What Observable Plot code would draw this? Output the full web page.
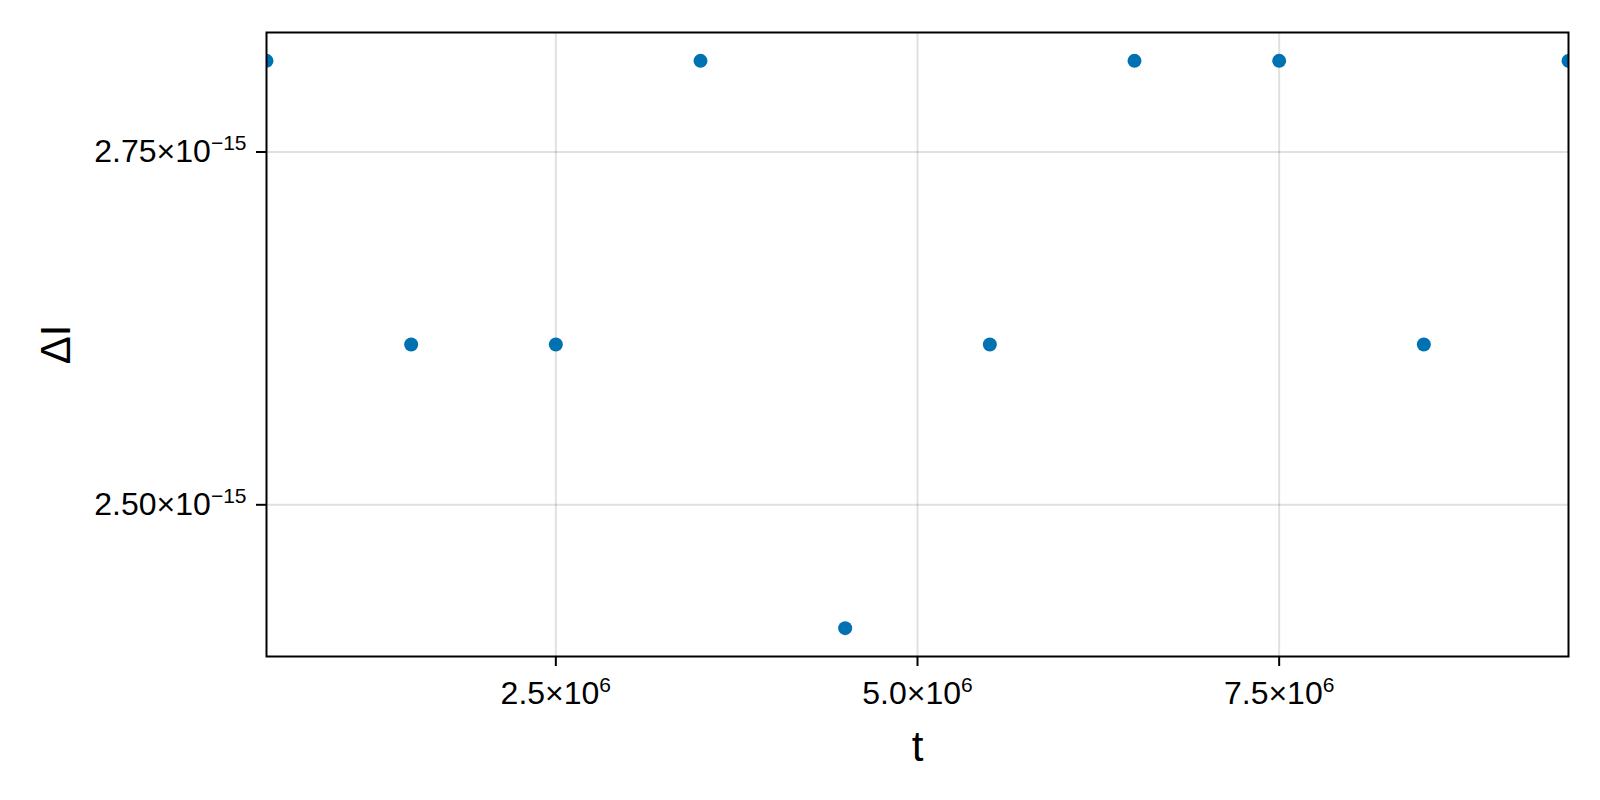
<!DOCTYPE html>
<html><head><meta charset="utf-8">
<script src="https://cdn.jsdelivr.net/npm/d3@7"></script>
<script src="https://cdn.jsdelivr.net/npm/@observablehq/plot@0.6"></script>
<style>body{margin:0;background:#fff}</style></head>
<body><div id="chart"></div>
<script>
const tValues = [0.5e6, 1.5e6, 2.5e6, 3.5e6, 4.5e6, 5.5e6, 6.5e6, 7.5e6, 8.5e6, 9.5e6];
const deltaI = [2.8146e-15, 2.6136e-15, 2.6136e-15, 2.8146e-15, 2.4126e-15, 2.6136e-15, 2.8146e-15, 2.8146e-15, 2.6136e-15, 2.8146e-15];
const xTicks = [2.5e6, 5.0e6, 7.5e6];
const xTickLabels = ["2.5×10^6", "5.0×10^6", "7.5×10^6"];
const yTicks = [2.5e-15, 2.75e-15];
const yTickLabels = ["2.50×10^−15", "2.75×10^−15"];
const xLabel = "t";
const yLabel = "ΔI";

const data = tValues.map((t, i) => ({t, dI: deltaI[i]}));

const chart = Plot.plot({
  width: 1600, height: 800,
  marginLeft: 266, marginRight: 32, marginTop: 32, marginBottom: 144,
  style: {fontFamily: "'Liberation Sans', Arial, sans-serif", fontSize: "32px", background: "white", color: "black"},
  x: {domain: [0.5e6, 9.5e6]},
  y: {domain: [2.3925e-15, 2.8347e-15]},
  marks: [
    Plot.gridX({ticks: xTicks, stroke: "black", strokeOpacity: 0.12, strokeWidth: 2}),
    Plot.gridY({ticks: yTicks, stroke: "black", strokeOpacity: 0.12, strokeWidth: 2}),
    Plot.dot(data, {x: "t", y: "dI", r: 7, fill: "#0072B2", clip: true}),
    Plot.frame({stroke: "black", strokeWidth: 2}),
    Plot.axisX({ticks: xTicks, tickSize: 10, tickPadding: 15, strokeWidth: 2,
      tickFormat: d => xTickLabels[xTicks.indexOf(d)], label: null}),
    Plot.axisY({ticks: yTicks, tickSize: 10, tickPadding: 10, strokeWidth: 2,
      tickFormat: d => yTickLabels[yTicks.indexOf(d)], label: null}),
    Plot.text([xLabel], {text: d => d, frameAnchor: "bottom", lineAnchor: "bottom", dy: 104, fontSize: 42}),
    Plot.text([yLabel], {text: d => d, frameAnchor: "left", textAnchor: "middle", lineAnchor: "middle", dx: -210, rotate: -90, fontSize: 42})
  ]
});

// tick label size and superscripts as tspans
chart.querySelectorAll("text").forEach(el => {
  const s = el.textContent;
  if (s.includes("^")) {
    el.style.fontSize = "32px";
    const [base, exp] = s.split("^");
    el.textContent = base;
    const ts = document.createElementNS("http://www.w3.org/2000/svg", "tspan");
    ts.style.fontSize = "21px";
    ts.setAttribute("dy", "-12");
    ts.textContent = exp;
    el.appendChild(ts);
  }
});

document.getElementById("chart").appendChild(chart);
</script>
</body></html>
